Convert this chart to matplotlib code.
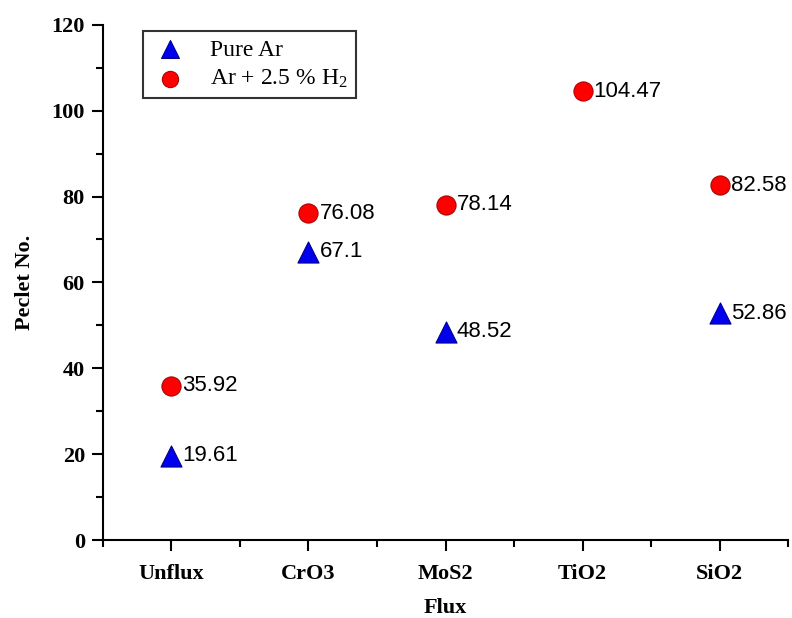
import matplotlib
matplotlib.use("Agg")
import matplotlib.pyplot as plt
from matplotlib.ticker import MultipleLocator

fluxes = ["Unflux", "CrO3", "MoS2", "TiO2", "SiO2"]
pure_ar = [19.61, 67.1, 48.52, None, 52.86]
ar_h2 = [35.92, 76.08, 78.14, 104.47, 82.58]
pure_ar_labels = ["19.61", "67.1", "48.52", None, "52.86"]
ar_h2_labels = ["35.92", "76.08", "78.14", "104.47", "82.58"]

serif = "Liberation Serif"
sans = "Liberation Sans"

plt.rcParams["mathtext.fontset"] = "custom"
plt.rcParams["mathtext.rm"] = serif
plt.rcParams["mathtext.it"] = serif + ":italic"

fig = plt.figure(figsize=(7.92, 6.18), dpi=100)
ax = fig.add_axes([0.130, 0.126, 0.865, 0.834])

xa = [i for i, v in enumerate(pure_ar) if v is not None]
ya = [v for v in pure_ar if v is not None]
ax.scatter(xa, ya, marker="^", s=230, color="#0000ee", edgecolors="#00008b",
           linewidths=0.8, zorder=3, label="Pure Ar")
ax.scatter(range(len(ar_h2)), ar_h2, marker="o", s=190, color="#ff0000",
           edgecolors="#b00000", linewidths=0.8, zorder=3,
           label=r"Ar + 2.5 % H$_\mathrm{2}$")

for i, (v, t) in enumerate(zip(pure_ar, pure_ar_labels)):
    if v is not None:
        ax.annotate(t, (i, v), xytext=(8, 0), textcoords="offset points",
                    va="center", ha="left", fontsize=16, family=sans)
for i, (v, t) in enumerate(zip(ar_h2, ar_h2_labels)):
    ax.annotate(t, (i, v), xytext=(8, 0), textcoords="offset points",
                va="center", ha="left", fontsize=16, family=sans)

ax.set_xlim(-0.5, 4.5)
ax.set_ylim(0, 120)
ax.set_xticks(range(len(fluxes)))
ax.set_xticklabels(fluxes)
ax.xaxis.set_minor_locator(MultipleLocator(0.5))
ax.yaxis.set_major_locator(MultipleLocator(20))
ax.yaxis.set_minor_locator(MultipleLocator(10))

for s in ("top", "right"):
    ax.spines[s].set_visible(False)
for s in ("left", "bottom"):
    ax.spines[s].set_linewidth(1.5)

ax.tick_params(which="major", direction="out", length=8, width=1.5,
               labelsize=16, pad=5)
ax.tick_params(which="minor", direction="out", length=5, width=1.5)
for lab in ax.get_xticklabels() + ax.get_yticklabels():
    lab.set_family(serif)
    lab.set_fontweight("bold")
ax.tick_params(axis="x", which="major", pad=9)

ax.set_xlabel("Flux", family=serif, fontweight="bold", fontsize=16, labelpad=10)
ax.set_ylabel("Peclet No.", family=serif, fontweight="bold", fontsize=16,
              labelpad=12)

leg = ax.legend(loc="upper left", bbox_to_anchor=(0.058, 0.988), frameon=True,
                fancybox=False, edgecolor="black",
                prop={"family": serif, "size": 17}, handletextpad=0.9,
                handlelength=1.6, borderpad=0.35, labelspacing=0.3,
                markerscale=0.85, borderaxespad=0)
leg.get_frame().set_linewidth(1.5)

fig.savefig("out.png", dpi=100)
